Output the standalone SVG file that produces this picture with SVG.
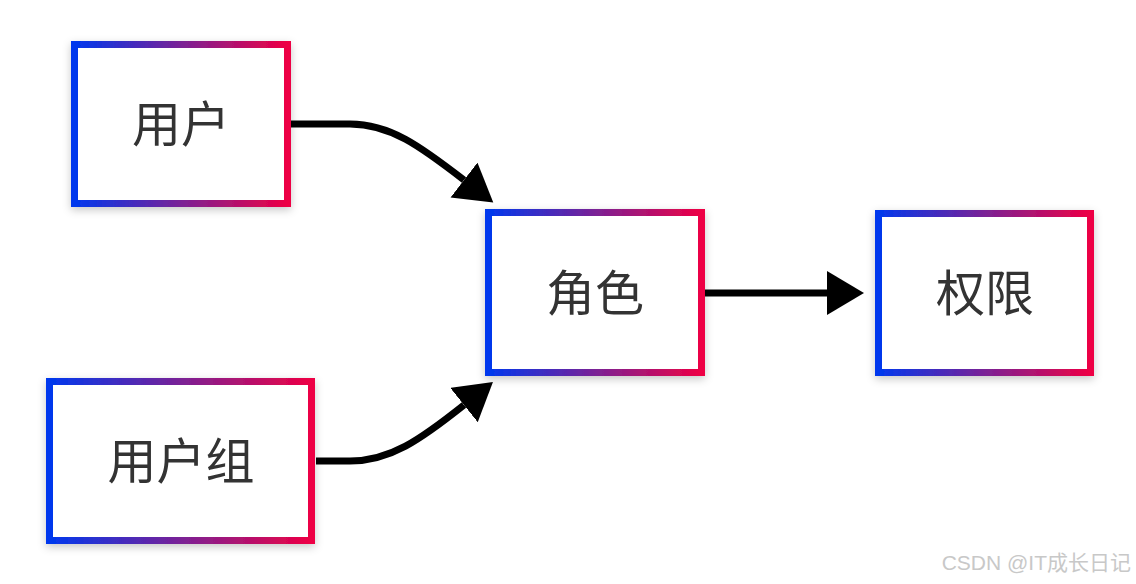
<svg xmlns="http://www.w3.org/2000/svg" width="1136" height="584" viewBox="0 0 1136 584">
<style>
.box{fill:#ffffff;stroke:url(#g);stroke-width:7;filter:url(#sh)}
.lbl{font-family:"Noto Sans CJK SC","Noto Sans",sans-serif;font-size:49px;fill:#333333;text-anchor:middle}
.edge{fill:none;stroke:#000000;stroke-width:7}
.wm{font-family:"Liberation Sans","Noto Sans CJK SC",sans-serif;font-size:21px;fill:#c8c8c8;text-anchor:end}
</style>
<defs>
<linearGradient id="g" x1="0" y1="0" x2="1" y2="0">
<stop offset="0" stop-color="#0038ee"/>
<stop offset="0.5" stop-color="#7a2296"/>
<stop offset="1" stop-color="#ee0044"/>
</linearGradient>
<filter id="sh" x="-10%" y="-10%" width="120%" height="125%">
<feDropShadow dx="0" dy="3" stdDeviation="4" flood-color="#000000" flood-opacity="0.22"/>
</filter>
<marker id="ah" markerUnits="userSpaceOnUse" markerWidth="40" markerHeight="46" refX="0" refY="22" orient="auto">
<path d="M0,0 L37,22 L0,44 Z" fill="#000000"/>
</marker>
</defs>
<rect width="1136" height="584" fill="#ffffff"/>
<g id="connectors">
<path class="edge" d="M291,124 L350,124 C390,124 420,146 464,180" marker-end="url(#ah)"/>
<path class="edge" d="M316,461 L350,461 C390,461 420,440 464,405" marker-end="url(#ah)"/>
<path class="edge" d="M705,293 L827,293" marker-end="url(#ah)"/>
</g>
<g id="node-user">
<rect class="box" x="74.5" y="44.5" width="213" height="159"/>
<text class="lbl" x="181" y="142">用户</text>
</g>
<g id="node-usergroup">
<rect class="box" x="49.5" y="381.5" width="262" height="159"/>
<text class="lbl" x="181" y="479">用户组</text>
</g>
<g id="node-role">
<rect class="box" x="488.5" y="212.5" width="213" height="160"/>
<text class="lbl" x="595" y="311">角色</text>
</g>
<g id="node-permission">
<rect class="box" x="878.5" y="213.5" width="212" height="159"/>
<text class="lbl" x="985" y="311">权限</text>
</g>
<text class="wm" x="1131" y="570">CSDN @IT成长日记</text>
</svg>
